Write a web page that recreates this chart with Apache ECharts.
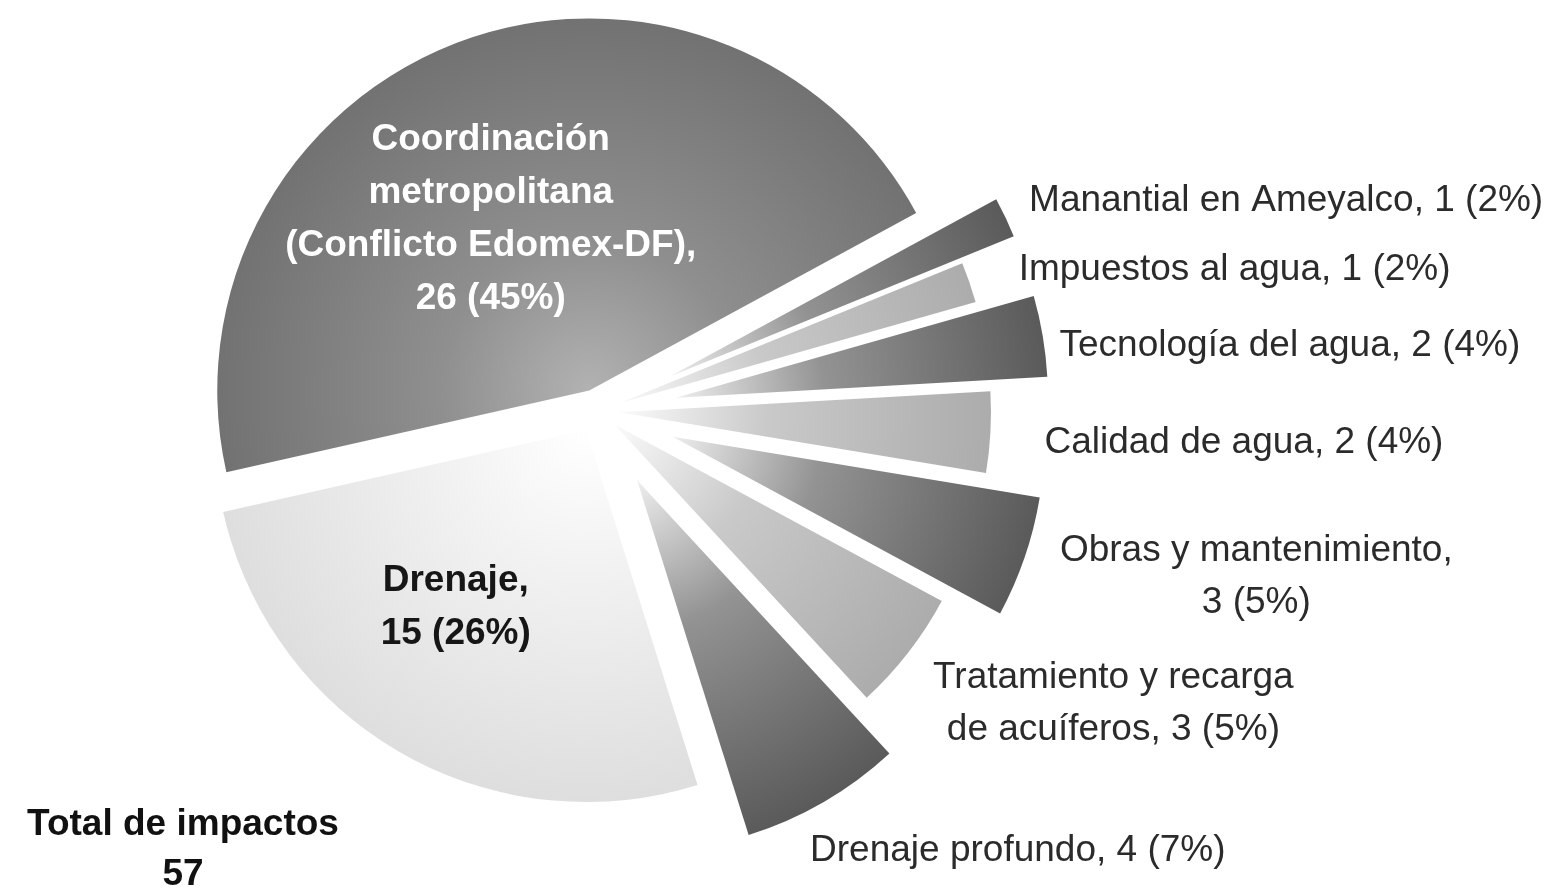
<!DOCTYPE html>
<html>
<head>
<meta charset="utf-8">
<script src="https://cdn.jsdelivr.net/npm/echarts@6/dist/echarts.min.js"></script>
<style>
    html, body { margin: 0; padding: 0; background: #fff; }
    #main { width: 1562px; height: 892px; }
</style>
</head>
<body>
<div id="main"></div>
<script>
// data, clockwise from the top right
var categories = ['Manantial en Ameyalco', 'Impuestos al agua', 'Tecnología del agua', 'Calidad de agua',
    'Obras y mantenimiento', 'Tratamiento y recarga\nde acuíferos', 'Drenaje profundo', 'Drenaje',
    'Coordinación\nmetropolitana\n(Conflicto Edomex-DF)'];
var values = [1, 1, 2, 2, 3, 3, 4, 15, 26];
var percents = [2, 2, 4, 4, 5, 5, 7, 26, 45];
var totalTitle = 'Total de impactos';

// look
var FONT = '"Liberation Sans", Arial, sans-serif';
var CENTER = [597, 411];
var RADIUS = 372;
var START = 28.5;
var explode = [80, 22, 80, 22, 80, 22, 80, 22, 22];   // how far each slice is pulled out
var DARK = ['#eeeeee', '#939393', '#5a5a5a'];
var LIGHT = ['#fbfbfb', '#c9c9c9', '#acacac'];
var ramps = [DARK, LIGHT, DARK, LIGHT, DARK, LIGHT, DARK,
    ['#ffffff', '#f1f1f1', '#dedede'],
    ['#b2b2b2', '#8f8f8f', '#727272']];
var breakAfterName = [false, false, false, false, true, false, false, true, true];
var inside = [false, false, false, false, false, false, false, true, true];
// label nudges (px) from where the pie puts them
var nudge = [[-25, -10], [0, -8], [-33, 12], [4, 10], [-14, 15], [-22, 42], [-56, 36], [-36, 13], [-32, 6]];

var total = values.reduce(function (a, b) { return a + b; }, 0);

function sliceCenter(i) {
    var before = 0;
    for (var k = 0; k < i; k++) before += values[k];
    var mid = (START - (before + values[i] / 2) / total * 360) * Math.PI / 180;
    return [CENTER[0] + explode[i] * Math.cos(mid), CENTER[1] - explode[i] * Math.sin(mid)];
}

function shade(i, c) {
    var r = ramps[i];
    return {
        type: 'radial', x: c[0], y: c[1], r: RADIUS, global: true,
        colorStops: [{offset: 0, color: r[0]}, {offset: 0.4, color: r[1]}, {offset: 1, color: r[2]}]
    };
}

function labelText(i) {
    return categories[i] + (breakAfterName[i] ? ',\n' : ', ') + values[i] + ' (' + percents[i] + '%)';
}

function labelStyle(i) {
    if (inside[i]) {
        return {
            show: true, position: 'inside', formatter: labelText(i),
            fontFamily: FONT, fontSize: 37, fontWeight: 'bold', lineHeight: 53,
            color: i === 8 ? '#ffffff' : '#161616'
        };
    }
    return {
        show: true, position: 'outside', formatter: labelText(i),
        fontFamily: FONT, fontSize: 37, lineHeight: 52, color: '#2b2b2b', overflow: 'none'
    };
}

// one pie per slice, so each slice can sit on its own pulled-out center
function sliceSeries(i) {
    var c = sliceCenter(i);
    return {
        type: 'pie',
        center: c,
        radius: RADIUS,
        startAngle: START,
        clockwise: true,
        avoidLabelOverlap: false,
        bleedMargin: 0,
        silent: true,
        animation: false,
        emphasis: {disabled: true},
        labelLine: {show: false},
        data: values.map(function (v, k) {
            var mine = k === i;
            return {
                name: categories[k],
                value: v,
                itemStyle: mine ? {color: shade(k, c), borderWidth: 0} : {color: 'rgba(0,0,0,0)', borderWidth: 0},
                label: mine ? labelStyle(k) : {show: false}
            };
        }),
        labelLayout: function (p) {
            var n = nudge[p.dataIndex];
            var r = p.labelRect;
            return {
                x: r.x + r.width / 2 + n[0],
                y: r.y + r.height / 2 + n[1],
                align: 'center',
                verticalAlign: 'middle'
            };
        }
    };
}

var chart = echarts.init(document.getElementById('main'));
chart.setOption({
    backgroundColor: '#ffffff',
    animation: false,
    title: {
        text: totalTitle + '\n' + total,
        left: 178,
        top: 795,
        textAlign: 'center',
        textStyle: {fontFamily: FONT, fontSize: 37, fontWeight: 'bold', lineHeight: 50, color: '#111111'}
    },
    series: values.map(function (v, i) { return sliceSeries(i); })
});
</script>
</body>
</html>
